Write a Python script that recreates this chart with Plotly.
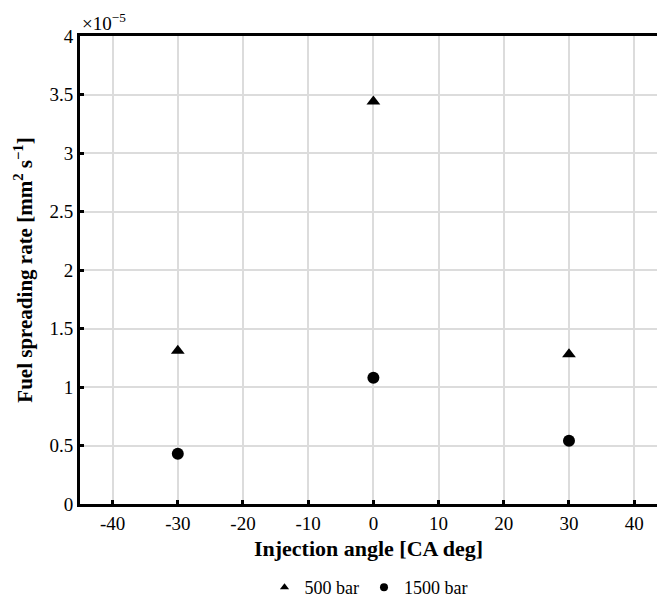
import plotly.graph_objects as go

angles = [-30, 0, 30]
rate_500 = [1.31, 3.44, 1.28]   # x1e-5 mm^2/s
rate_1500 = [0.43, 1.08, 0.54]  # x1e-5 mm^2/s
series_names = ["500 bar", "1500 bar"]
x_ticks = [-40, -30, -20, -10, 0, 10, 20, 30, 40]
y_ticks = [0, 0.5, 1, 1.5, 2, 2.5, 3, 3.5, 4]

FONT = "Liberation Serif"

fig = go.Figure()
fig.add_trace(go.Scatter(x=angles, y=rate_500, mode="markers", name=series_names[0],
                         showlegend=False,
                         marker=dict(symbol="triangle-up", size=12, color="black")))
fig.add_trace(go.Scatter(x=angles, y=rate_1500, mode="markers", name=series_names[1],
                         showlegend=False,
                         marker=dict(symbol="circle", size=12, color="black")))
# legend entries with small markers
fig.add_trace(go.Scatter(x=[None], y=[None], mode="markers", name=series_names[0],
                         marker=dict(symbol="triangle-up", size=8, color="black")))
fig.add_trace(go.Scatter(x=[None], y=[None], mode="markers", name=series_names[1],
                         marker=dict(symbol="circle", size=8, color="black")))

axis_common = dict(showgrid=True, gridcolor="#dcdcdc", gridwidth=2,
                   showline=True, linecolor="black", linewidth=3,
                   ticks="inside", ticklen=4, tickwidth=3, tickcolor="black",
                   zeroline=False, automargin=False,
                   tickfont=dict(family=FONT, size=19, color="black"))

fig.update_layout(
    width=657, height=606,
    margin=dict(l=80, r=0, t=36, b=100),
    plot_bgcolor="white", paper_bgcolor="white",
    font=dict(family=FONT, size=18, color="black"),
    showlegend=True,
    legend=dict(orientation="h", x=0.5, xanchor="center", y=-0.14, yanchor="top",
                font=dict(family=FONT, size=18), itemsizing="trace"),
    xaxis=dict(range=[-45, 43.5], tickvals=x_ticks, ticktext=[str(v) for v in x_ticks],
               mirror=True,
               title=dict(text="<b>Injection angle [CA deg]</b>",
                          font=dict(family=FONT, size=22), standoff=8),
               **axis_common),
    yaxis=dict(range=[0, 4], tickvals=y_ticks, ticktext=[f"{v:g}" for v in y_ticks],
               mirror=False,
               title=dict(text="<b>Fuel spreading rate [mm<sup>2</sup> s<sup>−1</sup>]</b>",
                          font=dict(family=FONT, size=21), standoff=12),
               **axis_common),
)
fig.add_annotation(text="×10<sup>−5</sup>", xref="paper", yref="paper", x=0.0, y=1.0,
                   xanchor="left", yanchor="bottom", showarrow=False,
                   font=dict(family=FONT, size=19), yshift=0)

fig.write_html("out.html", config={"displayModeBar": False},
               post_script="document.body.style.margin='0';document.body.style.overflow='hidden';")
